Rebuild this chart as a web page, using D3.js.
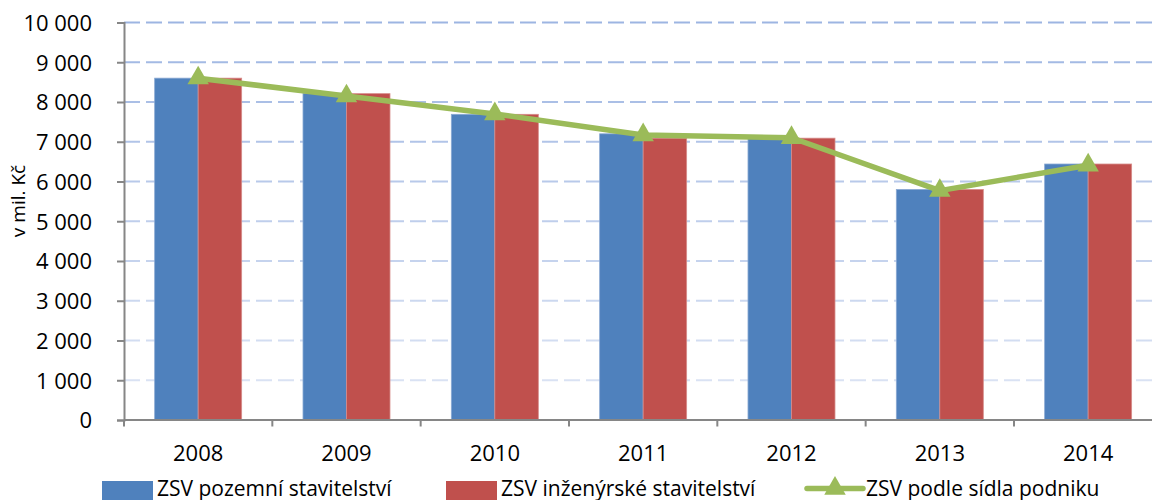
<!DOCTYPE html>
<html lang="cs">
<head>
<meta charset="utf-8">
<title>ZSV</title>
<script src="https://cdn.jsdelivr.net/npm/d3@7"></script>
<style>
  body { margin: 0; background: #fff; }
  svg text { font-family: "Open Sans", sans-serif; fill: #000; }
</style>
</head>
<body>
<script>
// chart data
var years = ["2008", "2009", "2010", "2011", "2012", "2013", "2014"];
var pozemni = [8600, 8220, 7690, 7200, 7090, 5800, 6440];
var inzenyrske = [8600, 8210, 7690, 7090, 7090, 5800, 6440];
var sidlo = [8600, 8150, 7700, 7170, 7100, 5770, 6410];
var yTicks = [0, 1000, 2000, 3000, 4000, 5000, 6000, 7000, 8000, 9000, 10000];
var seriesNames = ["ZSV pozemní stavitelství", "ZSV inženýrské stavitelství", "ZSV podle sídla podniku"];

var w = 1152, h = 500;
var plotLeft = 124, plotTop = 22.5, plotBottom = 420;
var step = 148.33;
var plotRight = plotLeft + years.length * step; // plot runs past the picture edge

var blue = "#4F81BD", red = "#C0504D", green = "#9BBB59";

var svg = d3.select("body").append("svg")
  .attr("width", w).attr("height", h);

var defs = svg.append("defs");
var grad = defs.append("linearGradient")
  .attr("id", "gridGrad")
  .attr("gradientUnits", "userSpaceOnUse")
  .attr("x1", 0).attr("y1", plotTop).attr("x2", 0).attr("y2", plotBottom);
grad.append("stop").attr("offset", "0%").attr("stop-color", "#9db5e2");
grad.append("stop").attr("offset", "100%").attr("stop-color", "#e0e7f5");

var x = d3.scaleBand()
  .domain(years)
  .range([plotLeft, plotRight])
  .paddingInner(0.4135)
  .paddingOuter(0.4135 / 2);

var xSub = d3.scaleBand()
  .domain([0, 1])
  .range([0, x.bandwidth()]);

var y = d3.scaleLinear()
  .domain([0, 10000])
  .range([plotBottom, plotTop]);

var fmt = function(v) { return d3.format(",")(v).replace(/,/g, "\u00a0"); };

// gridlines
svg.append("g").selectAll("line")
  .data(yTicks.slice(1))
  .enter().append("line")
  .attr("x1", plotLeft).attr("x2", plotRight)
  .attr("y1", function(d) { return y(d); })
  .attr("y2", function(d) { return y(d); })
  .attr("stroke", "url(#gridGrad)")
  .attr("stroke-width", 2)
  .attr("stroke-dasharray", "16,6");

// bars
var bars = [pozemni, inzenyrske];
var barColors = [blue, red];
var barEdges = ["#8aa9d3", "#d68c8a"];
bars.forEach(function(vals, s) {
  svg.append("g").selectAll("rect")
    .data(vals)
    .enter().append("rect")
    .attr("x", function(d, i) { return x(years[i]) + xSub(s); })
    .attr("y", function(d) { return y(d); })
    .attr("width", xSub.bandwidth())
    .attr("height", function(d) { return plotBottom - y(d); })
    .attr("fill", barColors[s])
    .attr("stroke", barEdges[s])
    .attr("stroke-width", 0.8);
});

// axes
var yAxis = d3.axisLeft(y).tickValues(yTicks).tickSize(7).tickPadding(25).tickFormat(fmt);
var gy = svg.append("g").attr("transform", "translate(" + plotLeft + ",0)").call(yAxis);
gy.selectAll("text").style("font-size", "22px").attr("dy", "0.36em");

var xAxis = d3.axisBottom(x).tickSize(0).tickPadding(25);
var gx = svg.append("g").attr("transform", "translate(0," + plotBottom + ")").call(xAxis);
gx.selectAll("text").style("font-size", "22px");
gx.select(".domain").remove();

// category boundary ticks
svg.append("g").selectAll("line")
  .data(d3.range(years.length + 1))
  .enter().append("line")
  .attr("x1", function(i) { return plotLeft + i * step; })
  .attr("x2", function(i) { return plotLeft + i * step; })
  .attr("y1", plotBottom).attr("y2", plotBottom + 6.5)
  .attr("stroke", "#868686").attr("stroke-width", 2);

svg.append("line")
  .attr("x1", plotLeft).attr("x2", plotRight)
  .attr("y1", plotBottom).attr("y2", plotBottom)
  .attr("stroke", "#868686").attr("stroke-width", 2);

gy.select(".domain").attr("stroke", "#868686").attr("stroke-width", 2);
gy.selectAll(".tick line").attr("stroke", "#868686").attr("stroke-width", 2);

// line series
var mid = function(i) { return x(years[i]) + x.bandwidth() / 2; };
var line = d3.line()
  .x(function(d, i) { return mid(i); })
  .y(function(d) { return y(d); });

svg.append("path")
  .datum(sidlo)
  .attr("d", line)
  .attr("fill", "none")
  .attr("stroke", green)
  .attr("stroke-width", 5.5)
  .attr("stroke-linejoin", "round");

var tri = d3.symbol().type(d3.symbolTriangle).size(200);
svg.append("g").selectAll("path")
  .data(sidlo)
  .enter().append("path")
  .attr("d", tri)
  .attr("transform", function(d, i) { return "translate(" + mid(i) + "," + y(d) + ")"; })
  .attr("fill", green);

// y axis title
svg.append("text")
  .attr("transform", "translate(25,201) rotate(-90)")
  .attr("text-anchor", "middle")
  .style("font-size", "19px")
  .text("v mil. Kč");

// legend
var lg = svg.append("g");
lg.append("rect").attr("x", 102).attr("y", 481).attr("width", 51).attr("height", 19).attr("fill", blue);
lg.append("text").attr("x", 157).attr("y", 496).style("font-size", "21px").text(seriesNames[0]);
lg.append("rect").attr("x", 446).attr("y", 481).attr("width", 51).attr("height", 19).attr("fill", red);
lg.append("text").attr("x", 501).attr("y", 496).style("font-size", "21px").text(seriesNames[1]);
lg.append("line").attr("x1", 807).attr("x2", 863).attr("y1", 488.5).attr("y2", 488.5)
  .attr("stroke", green).attr("stroke-width", 5.5).attr("stroke-linecap", "round");
lg.append("path").attr("d", tri).attr("transform", "translate(835,488.5)").attr("fill", green);
lg.append("text").attr("x", 866).attr("y", 496).style("font-size", "21px").text(seriesNames[2]);
</script>
</body>
</html>
